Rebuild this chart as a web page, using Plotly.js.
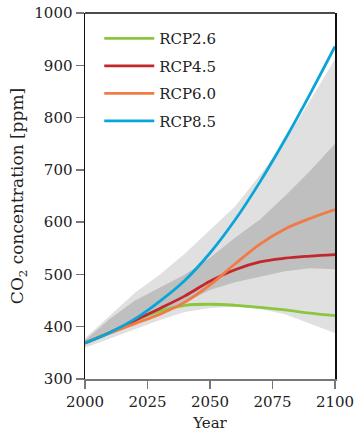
<!DOCTYPE html>
<html>
<head>
<meta charset="utf-8">
<script src="https://cdn.plot.ly/plotly-3.0.1.min.js"></script>
<style>html,body{margin:0;padding:0;background:#fff;}#chart{width:355px;height:432px;}</style>
</head>
<body>
<div id="chart"></div>
<script>
// Data
var years = [2000, 2010, 2020, 2030, 2040, 2050, 2060, 2070, 2080, 2090, 2100];
var rcp26 = [369, 389, 412, 430, 441, 443, 441, 437, 432, 426, 421];
var rcp45 = [369, 389, 412, 435, 459, 487, 509, 524, 531, 535, 538];
var rcp60 = [369, 388, 406, 424, 447, 480, 520, 558, 587, 607, 624];
var rcp85 = [369, 389, 415, 449, 489, 541, 604, 677, 758, 845, 936];
var lightLower = [360, 378, 395, 413, 428, 436, 438, 434, 424, 406, 388];
var lightUpper = [378, 421, 465, 500, 540, 585, 630, 690, 755, 832, 912];
var darkLower = [365, 385, 405, 425, 447, 470, 485, 496, 506, 512, 510];
var darkUpper = [374, 415, 450, 475, 500, 532, 570, 605, 650, 698, 750];
var seriesNames = ['RCP2.6', 'RCP4.5', 'RCP6.0', 'RCP8.5'];
var seriesValues = [rcp26, rcp45, rcp60, rcp85];
var seriesColors = ['#8cc63f', '#c1272d', '#f07b45', '#0aa5d8'];

var font = 'DejaVu Serif, serif';
var traces = [];
function band(lo, hi, color) {
  traces.push({x: years, y: lo, mode: 'lines', line: {width: 0}, showlegend: false, hoverinfo: 'skip'});
  traces.push({x: years, y: hi, mode: 'lines', line: {width: 0}, fill: 'tonexty', fillcolor: color, showlegend: false, hoverinfo: 'skip'});
}
band(lightLower, lightUpper, '#e0e0e0');
band(darkLower, darkUpper, '#bfbfbf');
for (var i = 0; i < seriesNames.length; i++) {
  traces.push({x: years, y: seriesValues[i], name: seriesNames[i], mode: 'lines',
    legendgroup: 'g' + i,
    line: {color: seriesColors[i], width: 2.8, shape: 'spline', smoothing: 1}});
}

var layout = {
  width: 355, height: 432,
  margin: {l: 85, r: 20, t: 13, b: 53},
  paper_bgcolor: '#fff', plot_bgcolor: '#fff',
  font: {family: font, size: 15, color: '#222'},
  showlegend: true,
  legend: {x: 0.057, y: 0.975, xanchor: 'left', yanchor: 'top', bgcolor: 'rgba(0,0,0,0)',
    itemwidth: 50,
    font: {family: font, size: 15, color: '#222'}, tracegroupgap: 5},
  xaxis: {range: [2000, 2100], tickmode: 'linear', tick0: 2000, dtick: 25,
    ticks: 'outside', ticklen: 8, tickcolor: '#777', tickwidth: 1.5,
    showline: true, linecolor: '#777', linewidth: 1.5, showgrid: false, zeroline: false,
    title: {text: 'Year', font: {family: font, size: 15, color: '#222'}, standoff: 9}},
  yaxis: {range: [300, 1000], tickmode: 'linear', tick0: 300, dtick: 100,
    ticks: 'outside', ticklen: 8, tickcolor: '#777', tickwidth: 1.5,
    showline: true, linecolor: '#111', linewidth: 1.5, mirror: true, showgrid: false, zeroline: false,
    title: {text: 'CO<sub>2</sub> concentration [ppm]', font: {family: font, size: 17, color: '#222'}, standoff: 6}},
  shapes: [{type: 'line', xref: 'paper', yref: 'paper', x0: 0, x1: 1, y0: 1, y1: 1,
    line: {color: '#111', width: 1.5}}]
};
Plotly.newPlot('chart', traces, layout, {displayModeBar: false, staticPlot: true});
</script>
</body>
</html>
